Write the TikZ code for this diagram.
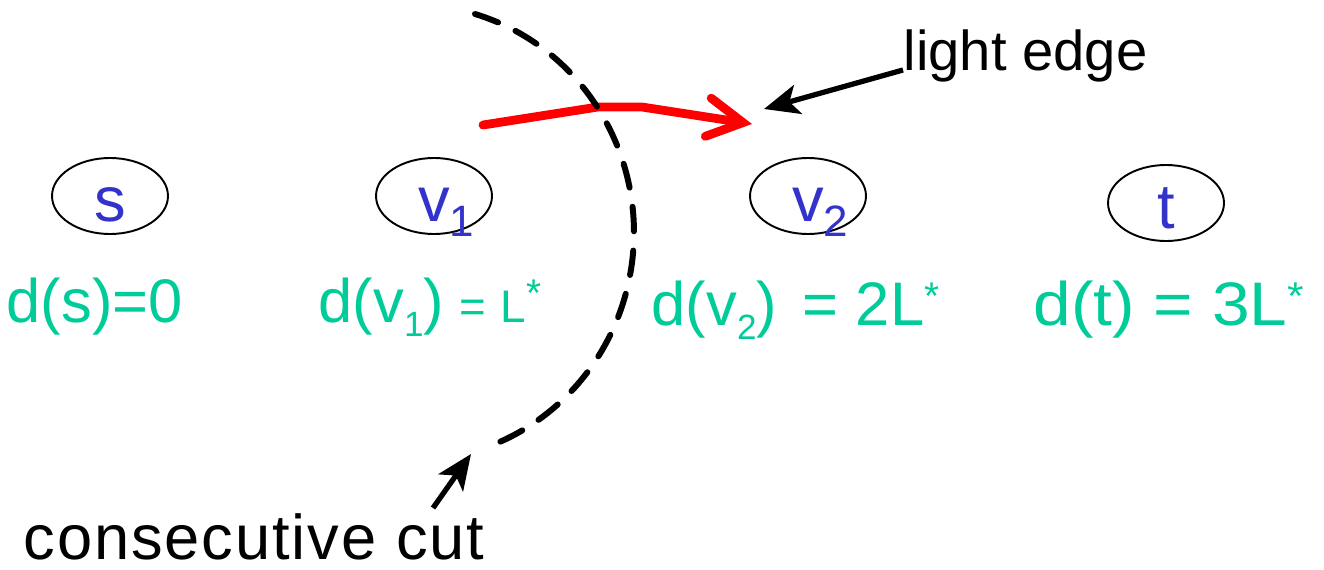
\documentclass[tikz,border=0pt]{standalone}
\usepackage{fontspec}
\setmainfont{Liberation Sans}
\newfontfamily\widefont[FakeStretch=1.1]{Liberation Sans}
\newfontfamily\spacedfont[LetterSpace=3]{Liberation Sans}
\usetikzlibrary{arrows.meta,shapes.geometric}
\definecolor{vblue}{RGB}{51,51,204}
\definecolor{dgreen}{RGB}{0,204,153}
\newcommand{\fs}[1]{\fontsize{#1}{#1}\selectfont}
\newcommand{\lo}[2]{\raisebox{-8.5pt}{\fs{#1}#2}}
\newcommand{\lstar}{\raisebox{9pt}{\fs{22}*}}
\tikzset{
  every picture/.style={line width=0.75pt},
  vertex/.style={draw, ellipse, line width=1.1pt, minimum width=2.32cm, minimum height=1.52cm,
    inner sep=0pt, text=vblue, font=\fs{36}, text height=29.5pt, text depth=0pt},
  dist/.style={anchor=base west, inner sep=0pt, text=dgreen, font=\fs{35}},
  note/.style={anchor=base west, inner sep=0pt, font=\fs{32}},
  lightedge/.style={red, line width=5pt, line cap=round, line join=round,
    -{Straight Barb[length=20pt,width=22pt,line cap=round]}},
  pointer/.style={line width=3pt, -{Stealth[length=20pt,width=17pt,inset=5pt]}},
  cutline/.style={line width=3.4pt, line cap=round, dash pattern=on 14pt off 11pt},
}

\begin{document}
\begin{tikzpicture}[x=0.02cm, y=0.02cm]
    \useasboundingbox (0,0) rectangle (1324,569);
    % vertices
    \node[vertex] (s)  at (110,373)  {s};
    \node[vertex] (v1) at (434,373)  {v\rlap{\lo{25}{1}}};
    \node[vertex] (v2) at (808,373)  {v\rlap{\lo{25}{2}}};
    \node[vertex] (t)  at (1166,366) {t};
    % distances
    \node[dist] (ds)  at (6,247)    {d(s)=0};
    \node[dist] (dv1) at (318,247)  {d(v\lo{20}{1})\hspace{9pt}{\fs{26}=\hspace{8pt}L}\lstar};
    \node[dist] (dv2) at (651,244)  {d(v\lo{20}{2})\hspace{5pt} = 2L\lstar};
    \node[dist, font=\fs{35}\widefont] (dt) at (1033,244) {d(t) = 3L\lstar};
    % light edge across the cut
    \coordinate (rs)  at (483,444);
    \coordinate (rk1) at (598,462);
    \coordinate (rk2) at (642,462);
    \coordinate (re)  at (752,445);
    \draw[lightedge] (rs) -- (rk1) -- (rk2) -- (re);
    % the cut
    \coordinate (cs) at (475,555);
    \draw[cutline] (cs) arc[start angle=73.5, end angle=-71, x radius=4.44cm, y radius=4.56cm];
    % labels
    \node[note] (light) at (903,499) {light edge};
    \coordinate (le) at (764,460);
    \draw[pointer] (light.base west) -- (le);
    \node[note, font=\fs{36}\spacedfont] (cc) at (23,10) {consecutive cut};
    \coordinate (ccfrom) at (433,61);
    \coordinate (ccto) at (471,115);
    \draw[pointer] (ccfrom) -- (ccto);
\end{tikzpicture}
\end{document}
